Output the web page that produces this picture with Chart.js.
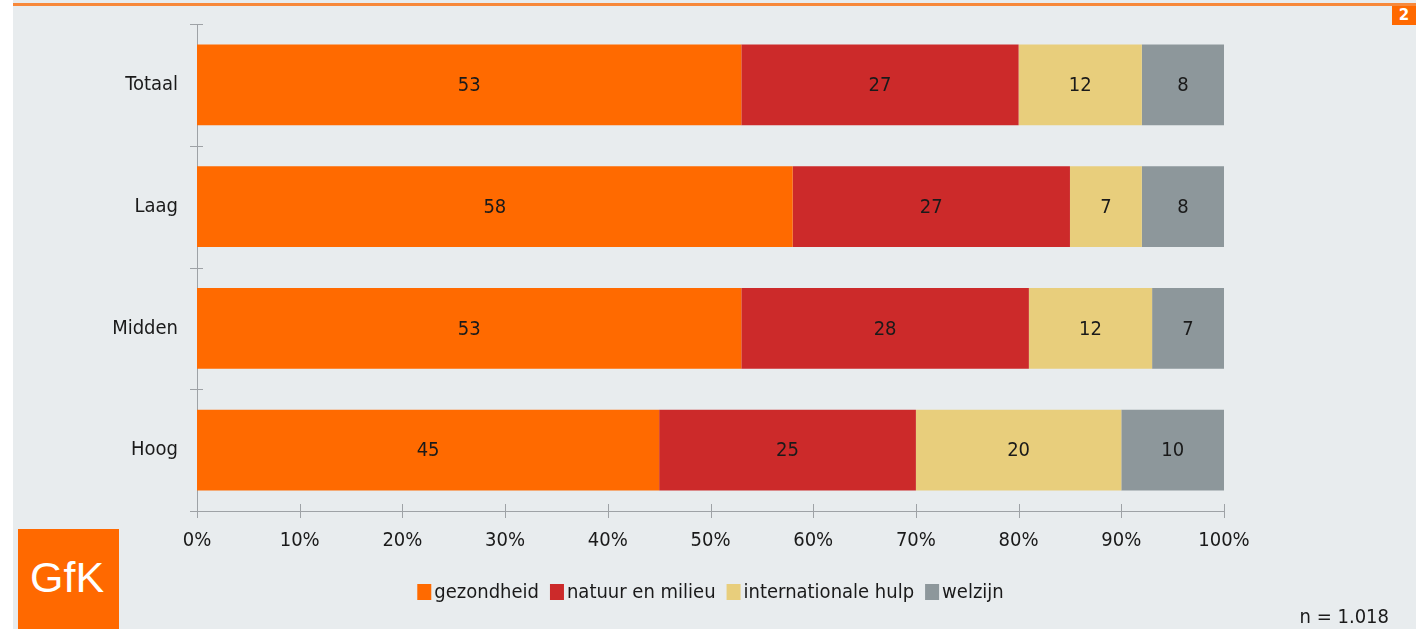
<!DOCTYPE html>
<html>
<head>
<meta charset="utf-8">
<script src="https://cdn.jsdelivr.net/npm/chart.js@4.4.1/dist/chart.umd.min.js"></script>
<style>
  body { margin: 0; background: #fff; }
  #wrap { position: relative; width: 1416px; height: 629px; overflow: hidden; }
  #bg { position: absolute; left: 13px; top: 0; right: 0; bottom: 0; background: #E8ECEE; }
  #topline { position: absolute; left: 13px; right: 0; top: 3px; height: 3px; background: #F7883A; }
  #page { position: absolute; left: 1392px; top: 6px; width: 24px; height: 19px; background: #FF6900; color: #fff;
          font: bold 15px "DejaVu Sans", sans-serif; text-align: center; line-height: 19px; }
  #logo { position: absolute; left: 18px; top: 529px; width: 101px; height: 100px; background: #FF6900; }
  #logo span { position: absolute; left: 12px; top: 27px; color: #fff; font: 43px/43px "Liberation Sans", sans-serif; }
  #n { position: absolute; right: 27px; top: 606px; font: 20px/20px "DejaVu Sans Condensed", "Liberation Sans", sans-serif; color: #1a1a1a; }
  canvas { position: absolute; left: 0; top: 0; }
</style>
</head>
<body>
<div id="wrap">
  <div id="bg"></div>
  <div id="topline"></div>
  <div id="page">2</div>
  <canvas id="myChart" width="1416" height="629"></canvas>
  <div id="logo"><span>GfK</span></div>
  <div id="n">n = 1.018</div>
</div>
<script>
// data
var categories = ["Totaal", "Laag", "Midden", "Hoog"];
var seriesNames = ["gezondheid", "natuur en milieu", "internationale hulp", "welzijn"];
var gezondheid = [53, 58, 53, 45];
var natuurEnMilieu = [27, 27, 28, 25];
var internationaleHulp = [12, 7, 12, 20];
var welzijn = [8, 8, 7, 10];
var xTicks = [0, 10, 20, 30, 40, 50, 60, 70, 80, 90, 100];

var colors = ["#FF6A00", "#CC2A2A", "#E8CE7C", "#8D979B"];
var FONT = '"DejaVu Sans Condensed", "Liberation Sans", sans-serif';
var textColor = "#1a1a1a";
var axisColor = "#9EA2A6";

// kleine Striche die beide Seiten der Achse kreuzen
var axisTicks = {
    id: "axisTicks",
    afterDatasetsDraw(chart) {
        var ctx = chart.ctx, x = chart.scales.x, y = chart.scales.y, a = chart.chartArea;
        ctx.save();
        ctx.strokeStyle = axisColor;
        ctx.lineWidth = 1;
        ctx.beginPath();
        for (var i = 0; i <= categories.length; i++) {
            var py = Math.round(y.getPixelForValue(i - 0.5)) + 0.5;
            ctx.moveTo(a.left - 7, py);
            ctx.lineTo(a.left + 6, py);
        }
        xTicks.forEach(function (v) {
            var px = Math.round(x.getPixelForValue(v)) + 0.5;
            ctx.moveTo(px, a.bottom - 7);
            ctx.lineTo(px, a.bottom + 7);
        });
        ctx.stroke();
        ctx.restore();
    }
};

// Zahlen in die Balken
var barLabels = {
    id: "barLabels",
    afterDatasetsDraw(chart) {
        var ctx = chart.ctx;
        ctx.save();
        ctx.font = "20px " + FONT;
        ctx.fillStyle = textColor;
        ctx.textAlign = "center";
        ctx.textBaseline = "middle";
        chart.data.datasets.forEach(function (ds, di) {
            chart.getDatasetMeta(di).data.forEach(function (el, i) {
                var p = el.getCenterPoint();
                ctx.fillText(ds.data[i], p.x, p.y + 1);
            });
        });
        ctx.restore();
    }
};

// Legende (eng gesetzt wie im Original)
var customLegend = {
    id: "customLegend",
    afterDraw(chart) {
        var ctx = chart.ctx;
        var boxW = 14, boxH = 16, gap = 3, itemGap = 11, cy = 592;
        ctx.save();
        ctx.font = "20px " + FONT;
        var widths = seriesNames.map(function (s) { return boxW + gap + ctx.measureText(s).width; });
        var total = widths.reduce(function (s, w) { return s + w; }, 0) + itemGap * (seriesNames.length - 1);
        var x = (chart.chartArea.left + chart.chartArea.right) / 2 - total / 2;
        ctx.textBaseline = "middle";
        ctx.textAlign = "left";
        seriesNames.forEach(function (s, i) {
            ctx.fillStyle = colors[i];
            ctx.fillRect(x, cy - boxH / 2, boxW, boxH);
            ctx.fillStyle = textColor;
            ctx.fillText(s, x + boxW + gap, cy + 1);
            x += widths[i] + itemGap;
        });
        ctx.restore();
    }
};

var seriesData = [gezondheid, natuurEnMilieu, internationaleHulp, welzijn];

var ctx = document.getElementById("myChart").getContext("2d");
var myChartInstance = new Chart(ctx, {
    type: "bar",
    data: {
        labels: categories,
        datasets: seriesNames.map(function (name, i) {
            return {
                label: name,
                data: seriesData[i],
                backgroundColor: colors[i],
                borderWidth: 0,
                barPercentage: 0.665,
                categoryPercentage: 1
            };
        })
    },
    options: {
        indexAxis: "y",
        responsive: false,
        animation: false,
        layout: { padding: { left: 0, right: 192, top: 24, bottom: 58 } },
        scales: {
            x: {
                stacked: true,
                min: 0,
                max: 100,
                afterFit: function (s) { s.height = 60; s.paddingLeft = 0; s.paddingRight = 0; },
                afterBuildTicks: function (s) { s.ticks = xTicks.map(function (v) { return { value: v }; }); },
                ticks: {
                    callback: function (v) { return v + "%"; },
                    font: { family: FONT, size: 20 },
                    color: textColor,
                    padding: 18,
                    maxRotation: 0
                },
                grid: { display: false, drawTicks: false },
                border: { display: true, color: axisColor, width: 1 }
            },
            y: {
                stacked: true,
                afterFit: function (s) { s.width = 197; s.paddingTop = 0; s.paddingBottom = 0; },
                ticks: {
                    font: { family: FONT, size: 20 },
                    color: textColor,
                    padding: 19
                },
                grid: { display: false, drawTicks: false },
                border: { display: true, color: axisColor, width: 1 }
            }
        },
        plugins: {
            legend: { display: false },
            tooltip: { enabled: false }
        }
    },
    plugins: [axisTicks, barLabels, customLegend]
});
</script>
</body>
</html>
